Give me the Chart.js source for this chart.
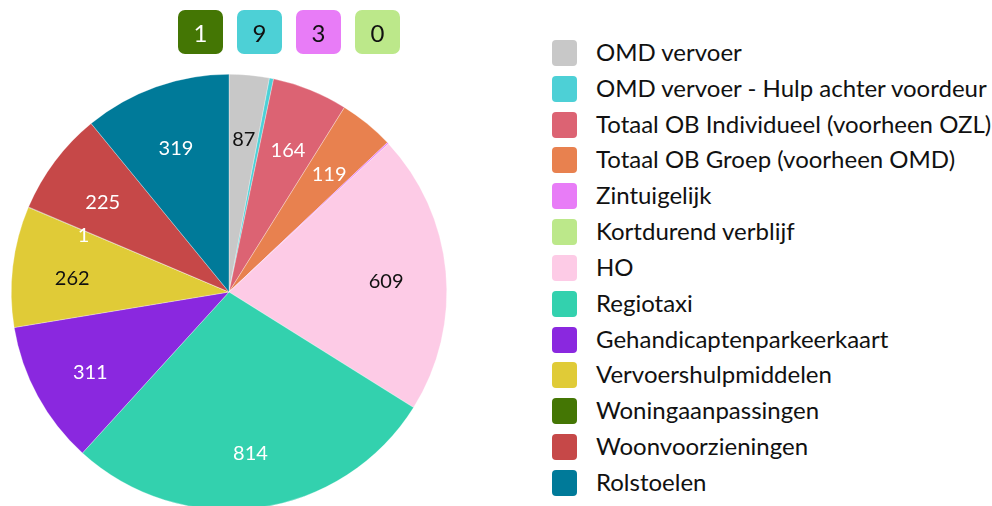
<!DOCTYPE html>
<html>
<head>
<meta charset="utf-8">
<script src="https://cdn.jsdelivr.net/npm/chart.js@4.4.1/dist/chart.umd.min.js"></script>
<style>
  html, body { margin: 0; padding: 0; background: #fff; overflow: hidden; }
  body { width: 992px; height: 506px; position: relative; font-family: Lato, "Noto Sans", sans-serif; }
  #wrap { position: absolute; left: 0; top: 0; width: 460px; height: 530px; }
  #badges { position: absolute; left: 178px; top: 10px; display: flex; gap: 14px; }
  .badge { width: 45px; height: 44px; border-radius: 7px; display: flex; align-items: center; justify-content: center; font-size: 24px; }
  #legend { position: absolute; left: 552px; top: 0; }
  .item { position: absolute; left: 0; display: flex; align-items: center; white-space: nowrap; height: 26px; }
  .box { width: 25px; height: 26px; border-radius: 4px; margin-right: 19px; flex: none; }
  .txt { font-size: 24px; color: #111; line-height: 26px; position: relative; top: -1px; }
</style>
</head>
<body>
<div id="wrap"><canvas id="pieChart"></canvas></div>
<div id="badges"></div>
<div id="legend"></div>
<script>
/* DATA */
const labels = [
  "OMD vervoer",
  "OMD vervoer - Hulp achter voordeur",
  "Totaal OB Individueel (voorheen OZL)",
  "Totaal OB Groep (voorheen OMD)",
  "Zintuigelijk",
  "Kortdurend verblijf",
  "HO",
  "Regiotaxi",
  "Gehandicaptenparkeerkaart",
  "Vervoershulpmiddelen",
  "Woningaanpassingen",
  "Woonvoorzieningen",
  "Rolstoelen",
];
const values = [87, 9, 164, 119, 3, 0, 609, 814, 311, 262, 1, 225, 319];
const colors = [
  "#c8c8c8", "#4dd0d6", "#dc6373", "#e8814f", "#e87cf7", "#bce88a", "#fdcbe6",
  "#33d1ae", "#8a28df", "#e0cb37", "#447604", "#c64848", "#007a99",
];
const textColors = [
  "#111", "#111", "#fff", "#fff", "#111", "#111", "#111",
  "#fff", "#fff", "#111", "#fff", "#fff", "#fff",
];
// small slices shown as badges above the pie
const badgeIdx = [10, 1, 4, 5];
const hideInside = [1, 4, 5];

/* BADGES */
const badges = document.getElementById("badges");
badgeIdx.forEach((i) => {
  const b = document.createElement("div");
  b.className = "badge";
  b.style.background = colors[i];
  b.style.color = textColors[i];
  b.textContent = values[i];
  badges.appendChild(b);
});

/* LEGEND */
const legend = document.getElementById("legend");
labels.forEach((name, i) => {
  const it = document.createElement("div");
  it.className = "item";
  it.style.top = (40 + i * 35.83) + "px";
  it.innerHTML = '<div class="box" style="background:' + colors[i] + '"></div><span class="txt"></span>';
  it.querySelector(".txt").textContent = name;
  legend.appendChild(it);
});

/* INSIDE LABELS */
const sliceLabels = {
  id: "sliceLabels",
  afterDatasetsDraw(chart) {
    const ctx = chart.ctx;
    const meta = chart.getDatasetMeta(0);
    ctx.save();
    ctx.font = '20px Lato, "Noto Sans", sans-serif';
    ctx.textAlign = "center";
    ctx.textBaseline = "middle";
    meta.data.forEach((arc, i) => {
      if (hideInside.includes(i)) return;
      const p = arc.getProps(["x", "y", "startAngle", "endAngle", "outerRadius"], true);
      const a = (p.startAngle + p.endAngle) / 2;
      const r = p.outerRadius * 0.725;
      ctx.fillStyle = textColors[i];
      ctx.fillText(values[i], p.x + Math.cos(a) * r, p.y + Math.sin(a) * r + 5);
    });
    ctx.restore();
  },
};

/* PIE */
new Chart(document.getElementById("pieChart"), {
  type: "pie",
  data: {
    labels: labels,
    datasets: [
      {
        data: values,
        backgroundColor: colors,
        borderColor: "rgba(255,255,255,0.6)",
        borderWidth: 0.5,
      },
    ],
  },
  options: {
    responsive: true,
    maintainAspectRatio: false,
    animation: false,
    layout: { padding: { top: 74, left: 11, right: 13, bottom: 20 } },
    plugins: { legend: { display: false }, tooltip: { enabled: false } },
  },
  plugins: [sliceLabels],
});
</script>
</body>
</html>
